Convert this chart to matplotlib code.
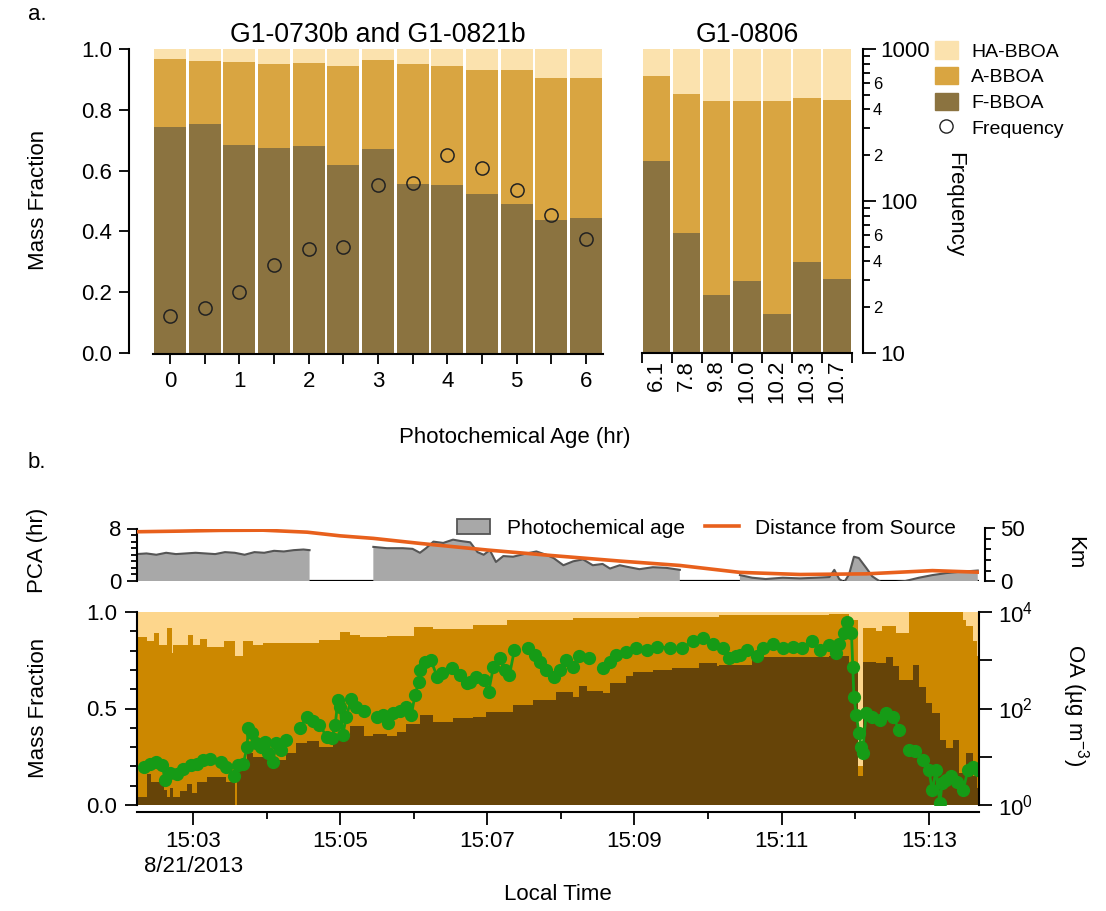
import numpy as np
import matplotlib.pyplot as plt
from matplotlib.patches import Patch
from matplotlib.lines import Line2D
from matplotlib.ticker import FixedLocator, NullLocator, MultipleLocator

plt.rcParams['font.family'] = ['Liberation Sans', 'DejaVu Sans']
plt.rcParams['font.size'] = 16
plt.rcParams['mathtext.default'] = 'regular'
plt.rcParams['axes.linewidth'] = 1.5

# ---------------- panel a data ----------------
age_ab = [0, 0.5, 1, 1.5, 2, 2.5, 3, 3.5, 4, 4.5, 5, 5.5, 6]
f_ab = [0.744, 0.754, 0.684, 0.675, 0.682, 0.617, 0.672, 0.557, 0.552, 0.522, 0.489, 0.437, 0.444]
a_ab = [0.222, 0.207, 0.272, 0.275, 0.271, 0.327, 0.292, 0.394, 0.393, 0.408, 0.441, 0.467, 0.462]
ha_ab = [0.034, 0.039, 0.044, 0.050, 0.047, 0.056, 0.036, 0.049, 0.055, 0.070, 0.070, 0.096, 0.094]
freq_ab = [17.6, 19.7, 25.3, 38, 48, 50, 127, 131, 201, 166, 118, 81, 56]

age_0806 = ['6.1', '7.8', '9.8', '10.0', '10.2', '10.3', '10.7']
f_0806 = [0.632, 0.394, 0.191, 0.237, 0.127, 0.299, 0.242]
a_0806 = [0.279, 0.459, 0.638, 0.592, 0.702, 0.540, 0.591]
ha_0806 = [0.089, 0.147, 0.171, 0.171, 0.171, 0.161, 0.167]

# ---------------- panel b data (time in s after 15:00:00) ----------------
frac_t = [134, 142, 146, 148, 152, 156, 159, 161, 163, 164, 169, 175, 176, 179, 180,
          183, 186, 191, 205, 207, 214, 216, 221, 224, 229, 237, 240, 256, 264, 273,
          283, 294, 300, 308, 316, 319, 327, 338, 346, 354, 360, 365, 376, 392, 408,
          419, 436, 441, 457, 476, 490, 495, 501, 514, 520, 533, 539, 544, 555, 571,
          593, 607, 609, 636, 699, 715, 722, 726, 737, 742, 745, 751, 753, 756, 764,
          767, 772, 778, 783, 789, 794, 800, 805, 808, 810, 816, 819, 821]
frac_f = [0.04, 0.16, 0.12, 0.12, 0.12, 0.08, 0.04, 0.09, 0.09, 0.04, 0.07, 0.11, 0.11, 0.06, 0.06,
          0.12, 0.12, 0.147, 0.147, 0.12, 0.0, 0.19, 0.19, 0.27, 0.25, 0.25, 0.233, 0.27, 0.32, 0.33,
          0.30, 0.37, 0.37, 0.41, 0.41, 0.36, 0.37, 0.36, 0.38, 0.42, 0.42, 0.466, 0.43, 0.45, 0.457,
          0.48, 0.48, 0.52, 0.544, 0.587, 0.56, 0.617, 0.59, 0.58, 0.63, 0.668, 0.69, 0.69, 0.70, 0.708,
          0.734, 0.72, 0.725, 0.768, 0.77, 0.72, 0.15, 0.742, 0.735, 0.735, 0.768, 0.72, 0.72, 0.648, 0.648,
          0.725, 0.61, 0.527, 0.475, 0.337, 0.294, 0.337, 0.164, 0.164, 0.268, 0.15, 0.09]
frac_ha = [0.13, 0.15, 0.15, 0.11, 0.17, 0.17, 0.085, 0.085, 0.21, 0.17, 0.17, 0.17, 0.12, 0.12, 0.17,
           0.17, 0.14, 0.18, 0.15, 0.15, 0.23, 0.23, 0.15, 0.15, 0.17, 0.16, 0.16, 0.16, 0.16, 0.16,
           0.145, 0.145, 0.105, 0.12, 0.13, 0.13, 0.13, 0.125, 0.125, 0.125, 0.08, 0.08, 0.09, 0.09, 0.067,
           0.067, 0.041, 0.041, 0.041, 0.041, 0.033, 0.033, 0.033, 0.033, 0.033, 0.033, 0.033, 0.024, 0.024, 0.024,
           0.024, 0.024, 0.016, 0.016, 0.01, 0.04, 0.80, 0.085, 0.10, 0.07, 0.07, 0.07, 0.11, 0.11, 0.0,
           0.0, 0.0, 0.0, 0.0, 0.0, 0.0, 0.0, 0.0, 0.04, 0.07, 0.15, 0.23]

oa_t = [140, 145, 150, 155, 157, 161, 167, 172, 178, 183, 188, 194, 198,
        203, 207, 213, 217, 221, 224, 225, 228, 231, 235, 239, 241, 245, 248, 252, 256, 261,
        267, 273, 278, 283, 289, 293, 296, 298, 300, 302, 305, 309, 313, 319, 324,
        330, 335, 339, 343, 349, 354, 358, 361, 364, 365, 369, 374, 379, 383, 387,
        391, 398, 403, 406, 411, 417, 421, 425, 430, 434, 438, 442, 447,
        453, 459, 463, 468, 474, 479, 484, 490, 495, 503, 508,
        514, 520, 525, 533, 541, 550, 558, 569, 574,
        579, 588, 596, 604, 612, 617, 623, 626, 632, 636,
        640, 645, 653, 661, 669, 677, 685, 691, 695,
        699, 704, 707, 711, 713, 717, 718, 719, 721, 723, 725, 726, 729, 734, 740, 745, 751, 756, 760,
        764, 769, 775, 780, 783, 786, 789, 791, 794, 798, 803, 808, 812, 816, 820]
oa_val = [6.2, 7.2, 7.8, 6.6, 3.3, 4.6, 4.3, 5.6, 6.6, 7.2, 8.7, 9.1, np.nan,
          7.8, 6.2, 3.9, 6.6, 7.2, 16, 39, 31, 19, 16, 20, 12, 7.8, 19, 14, 22, np.nan,
          39, 68, 54, 46, 26, 24, 46, 150, 110, 28, 68, 160, 110, 87, np.nan,
          68, 74, 49, 79, 87, 110, 74, 190, 360, 630, 930, 1000, 460, 540, np.nan,
          680, 490, 330, 360, 460, 390, 220, 740, 1100, 630, 490, 1600, np.nan,
          1800, 1300, 930, 630, 460, 630, 1000, 740, 1200, 1100, np.nan,
          680, 930, 1300, 1500, 1800, 1600, 1900, 1800, np.nan,
          1800, 2500, 2900, 2200, 1800, 1100, 1200, 1300, 1600, np.nan,
          1200, 1800, 2200, 1800, 1900, 1800, 2500, 1600, np.nan,
          2100, 1400, 2200, 3600, 6300, 3600, 740, 170, 74, 31, 16, 12, 79, 68, 58, 79, 68, 35, np.nan,
          14, 13, 8.5, 5.4, 2.0, 5.4, 1.1, 2.8, 3.3, 3.9, 3.0, 2.0, 5.4, 6.2, 5.4]

pca_t = [134, 142, 150, 158, 166, 174, 182, 190, 198, 206, 214, 222, 230, 238, 246, 254, 262, 270, 275, 300,
         327, 338, 351, 359, 365, 370, 376, 384, 392, 398, 406, 412, 417, 422, 427, 433, 441, 452, 460,
         468, 474, 482, 490, 498, 506, 514, 520, 528, 533, 544, 555, 566, 577, 600,
         626, 636, 647, 661, 675, 688, 699, 703, 707, 711, 715, 719, 723, 729, 734, 742, 751, 761,
         772, 783, 794, 805, 813, 820]
pca_hr = [4.1, 4.2, 4.0, 4.3, 4.1, 4.2, 4.3, 4.2, 4.1, 4.4, 4.3, 4.0, 4.4, 4.3, 4.6, 4.5, 4.7, 4.8, 4.7, np.nan,
          5.2, 5.0, 5.0, 4.9, 4.3, 5.0, 6.0, 5.8, 6.3, 6.1, 5.9, 4.4, 4.0, 4.7, 2.9, 3.8, 3.7, 4.2, 4.5,
          4.0, 3.5, 2.4, 3.0, 3.3, 2.4, 2.6, 1.9, 2.4, 2.2, 1.8, 2.1, 2.0, 1.7, np.nan,
          0.9, 0.5, 0.3, 0.5, 0.4, 0.5, 0.6, 1.7, 0.3, -0.2, 1.0, 3.7, 3.5, 2.0, 0.7, -0.3, -0.2, 0.0,
          0.5, 0.9, 1.2, 1.4, 1.5, 1.6]

dist_t = [134, 169, 202, 237, 273, 300, 327, 365, 420, 473, 528, 577, 626, 675, 729, 783, 820]
dist_km = [46.9, 47.5, 48.2, 48.4, 46.5, 43.0, 40.6, 35.8, 29.5, 24.2, 19.0, 14.8, 8.2, 6.2, 6.8, 9.9, 8.4]

# colours
C_HA, C_A, C_F = '#FBE2AE', '#D9A541', '#8B7340'
C_HA2, C_A2, C_F2 = '#FDD68C', '#CC8800', '#664408'

W, H = 1106, 911
fig = plt.figure(figsize=(W / 100, H / 100), dpi=100)


def box(x0, y0, x1, y1):
    return [x0 / W, 1 - y1 / H, (x1 - x0) / W, (y1 - y0) / H]


def only_spines(ax, keep):
    for k, s in ax.spines.items():
        s.set_visible(k in keep)


tick_kw = dict(direction='out', width=1.3)

# ---------------- panel a, left ----------------
ax_l = fig.add_axes(box(152.7, 49, 603.3, 353))
f = np.array(f_ab)
a = np.array(a_ab)
ax_l.bar(age_ab, f, width=0.46, color=C_F)
ax_l.bar(age_ab, a, bottom=f, width=0.46, color=C_A)
ax_l.bar(age_ab, ha_ab, bottom=f + a, width=0.46, color=C_HA)
ax_l.set_xlim(-0.25, 6.25)
ax_l.set_ylim(0, 1)
only_spines(ax_l, ['left', 'bottom'])
ax_l.spines['left'].set_position(('outward', 17))
ax_l.spines['bottom'].set_position(('outward', 1))
ax_l.set_yticks(np.arange(0, 1.01, 0.2))
ax_l.set_yticklabels([f'{v:.1f}' for v in np.arange(0, 1.01, 0.2)])
ax_l.set_xticks(range(7))
ax_l.xaxis.set_minor_locator(FixedLocator(np.arange(0.5, 6, 1.0)))
ax_l.tick_params(axis='both', which='both', length=7, pad=5, **tick_kw)
ax_l.set_title('G1-0730b and G1-0821b', pad=5)

ax_lt = ax_l.twinx()
ax_lt.set_yscale('log')
ax_lt.set_ylim(10, 1000)
ax_lt.plot(age_ab, freq_ab, 'o', ms=9.5, mfc='none', mec='#222222', mew=1.1)
ax_lt.axis('off')

# ---------------- panel a, right ----------------
ax_r = fig.add_axes(box(641.7, 49, 852, 353))
xr = np.arange(len(age_0806))
f2 = np.array(f_0806)
a2 = np.array(a_0806)
ax_r.bar(xr, f2, width=0.91, color=C_F)
ax_r.bar(xr, a2, bottom=f2, width=0.91, color=C_A)
ax_r.bar(xr, ha_0806, bottom=f2 + a2, width=0.91, color=C_HA)
ax_r.set_xlim(-0.5, 6.5)
ax_r.set_ylim(0, 1)
only_spines(ax_r, ['bottom'])
ax_r.set_yticks([])
ax_r.set_xticks(xr)
ax_r.set_xticklabels(age_0806, rotation=90)
ax_r.xaxis.set_minor_locator(FixedLocator(np.arange(-0.5, 7, 1.0)))
ax_r.tick_params(axis='x', which='major', length=0, pad=5)
ax_r.tick_params(axis='x', which='minor', length=7, **tick_kw)
ax_r.set_title('G1-0806', pad=5)

ax_rt = ax_r.twinx()
ax_rt.set_yscale('log')
ax_rt.set_ylim(10, 1000)
only_spines(ax_rt, ['right'])
ax_rt.spines['right'].set_position(('outward', 8))
ax_rt.yaxis.set_major_locator(FixedLocator([10, 100, 1000]))
ax_rt.set_yticklabels(['10', '100', '1000'])
minor_pos = [m * d for d in (10, 100) for m in range(2, 10)]
ax_rt.yaxis.set_minor_locator(FixedLocator(minor_pos))
ax_rt.set_yticklabels(['' if m not in (2, 4, 6) else str(m) for d in (10, 100) for m in range(2, 10)],
                      minor=True, fontsize=12)
ax_rt.tick_params(axis='y', which='major', length=9, pad=3, **tick_kw)
ax_rt.tick_params(axis='y', which='minor', length=5, pad=2, **tick_kw)

fig.text(38 / W, 1 - 200 / H, 'Mass Fraction', rotation=90, ha='center', va='center')
fig.text(955 / W, 1 - 205 / H, 'Frequency', rotation=270, ha='center', va='center')
fig.text(515 / W, 1 - 437 / H, 'Photochemical Age (hr)', ha='center', va='center')
fig.text(28 / W, 1 - 15 / H, 'a.', ha='left', va='center')
fig.text(28 / W, 1 - 462 / H, 'b.', ha='left', va='center')

leg_a = [Patch(color=C_HA, label='HA-BBOA'), Patch(color=C_A, label='A-BBOA'),
         Patch(color=C_F, label='F-BBOA'),
         Line2D([], [], ls='none', marker='o', ms=9.5, mfc='none', mec='#222222', label='Frequency')]
fig.legend(handles=leg_a, loc='upper left', bbox_to_anchor=(917 / W, 1 - 24 / H), frameon=False,
           fontsize=14, handlelength=1.2, handleheight=1.0, labelspacing=0.32, handletextpad=0.7)

# ---------------- panel b, top (PCA + distance) ----------------
ax_p = fig.add_axes(box(136.7, 528.5, 979, 581))
pca = np.array(pca_hr)
ax_p.axhline(0, color='k', lw=1.6, zorder=0.5)
ax_p.fill_between(pca_t, 0, pca, color='#A8A8A8', lw=0, zorder=1)
ax_p.plot(pca_t, pca, color='#555555', lw=1.5, zorder=2)
ax_p.set_xlim(134, 821)
ax_p.set_ylim(0, 8)
only_spines(ax_p, ['left'])
ax_p.set_xticks([])
ax_p.set_yticks([0, 8])
ax_p.yaxis.set_minor_locator(MultipleLocator(1))
ax_p.tick_params(axis='y', which='major', length=7, pad=4, **tick_kw)
ax_p.tick_params(axis='y', which='minor', length=4, **tick_kw)

ax_k = ax_p.twinx()
ax_k.plot(dist_t, dist_km, color='#E8601C', lw=2.6)
ax_k.set_ylim(0, 50)
only_spines(ax_k, ['right'])
ax_k.spines['right'].set_position(('outward', 4))
ax_k.set_yticks([0, 50])
ax_k.yaxis.set_minor_locator(MultipleLocator(10))
ax_k.tick_params(axis='y', which='major', length=7, pad=4, **tick_kw)
ax_k.tick_params(axis='y', which='minor', length=4, **tick_kw)

leg_b = [Patch(facecolor='#A8A8A8', edgecolor='#555555', lw=1.3, label='Photochemical age'),
         Line2D([], [], color='#E8601C', lw=2.6, label='Distance from Source')]
fig.legend(handles=leg_b, loc='center right', bbox_to_anchor=(975 / W, 1 - 528 / H), ncol=2,
           frameon=False, fontsize=15, handlelength=1.6, columnspacing=1.0, handletextpad=0.8)

# ---------------- panel b, bottom (fractions + OA) ----------------
ax_m = fig.add_axes(box(136.7, 612, 979, 805))
ff = np.array(frac_f)
ha = np.array(frac_ha)
aa = 1 - ff - ha
ax_m.stairs(ff, frac_t, baseline=0, fill=True, color=C_F2)
ax_m.stairs(ff + aa, frac_t, baseline=ff, fill=True, color=C_A2)
ax_m.stairs(np.ones_like(ff), frac_t, baseline=ff + aa, fill=True, color=C_HA2)
ax_m.set_xlim(134, 821)
ax_m.set_ylim(0, 1)
only_spines(ax_m, ['left', 'bottom'])
ax_m.spines['bottom'].set_position(('outward', 5))
ax_m.set_yticks([0, 0.5, 1.0])
ax_m.set_yticklabels(['0.0', '0.5', '1.0'])
ax_m.yaxis.set_minor_locator(MultipleLocator(0.1))
major_t = [180, 300, 420, 540, 660, 780]
ax_m.set_xticks(major_t)
ax_m.set_xticklabels([f'15:{t // 60:02d}' + ('\n8/21/2013' if t == 180 else '') for t in major_t])
ax_m.xaxis.set_minor_locator(FixedLocator([240, 360, 480, 600, 720]))
ax_m.tick_params(axis='both', which='major', length=9, pad=5, **tick_kw)
ax_m.tick_params(axis='both', which='minor', length=5, **tick_kw)

ax_o = ax_m.twinx()
ax_o.plot(oa_t, oa_val, '-o', color='#169B16', ms=8.5, lw=2)
ax_o.set_yscale('log')
ax_o.set_ylim(1, 1e4)
only_spines(ax_o, ['right'])
ax_o.yaxis.set_major_locator(FixedLocator([1, 10, 100, 1000, 10000]))
ax_o.set_yticklabels(['$10^0$', '', '$10^2$', '', '$10^4$'])
ax_o.yaxis.set_minor_locator(NullLocator())
ax_o.tick_params(axis='y', length=9, pad=5, **tick_kw)

fig.text(38 / W, 1 - 550 / H, 'PCA (hr)', rotation=90, ha='center', va='center')
fig.text(38 / W, 1 - 708 / H, 'Mass Fraction', rotation=90, ha='center', va='center')
fig.text(1075 / W, 1 - 553 / H, 'Km', rotation=270, ha='center', va='center')
fig.text(1075 / W, 1 - 705 / H, 'OA (µg m$^{-3}$)', rotation=270, ha='center', va='center')
fig.text(558 / W, 1 - 895 / H, 'Local Time', ha='center', va='center')

fig.savefig('out.png', dpi=100)
